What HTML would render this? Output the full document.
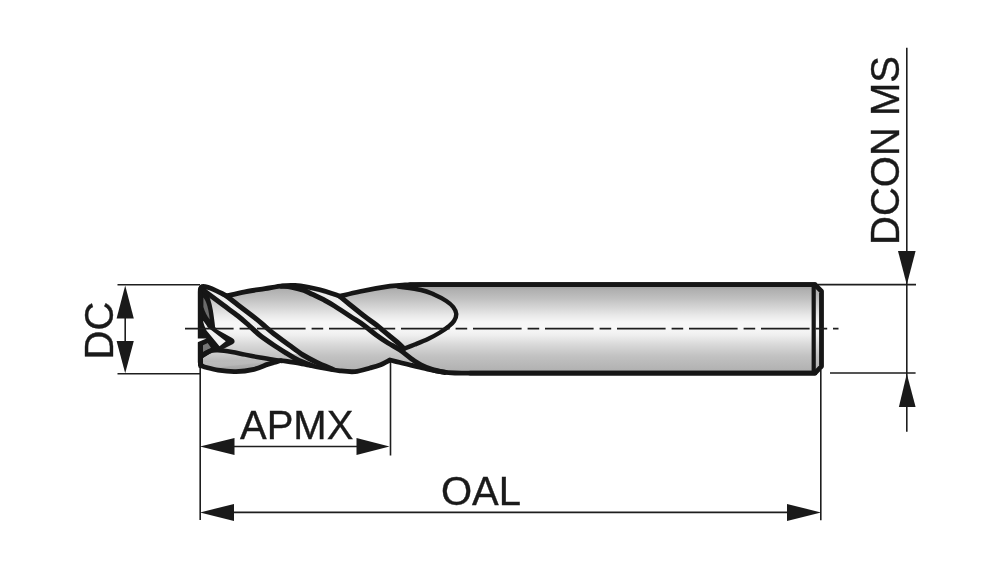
<!DOCTYPE html>
<html><head><meta charset="utf-8">
<style>
html,body{margin:0;padding:0;background:#fff;width:1000px;height:569px;overflow:hidden}
svg{display:block;will-change:transform}
text{font-family:"Liberation Sans",sans-serif;fill:#1a1a1a;stroke:#1a1a1a;stroke-width:0.35}
</style></head><body>
<svg width="1000" height="569" viewBox="0 0 1000 569">
<defs>
<linearGradient id="gb" x1="0" y1="287" x2="0" y2="371" gradientUnits="userSpaceOnUse">
<stop offset="0.012" stop-color="#a6a6a6"/>
<stop offset="0.036" stop-color="#b0b0b0"/>
<stop offset="0.137" stop-color="#c0c0c0"/>
<stop offset="0.238" stop-color="#d4d4d4"/>
<stop offset="0.333" stop-color="#e8e8e8"/>
<stop offset="0.417" stop-color="#f6f6f6"/>
<stop offset="0.488" stop-color="#f8f8f8"/>
<stop offset="0.571" stop-color="#efefef"/>
<stop offset="0.690" stop-color="#d8d8d8"/>
<stop offset="0.821" stop-color="#c2c2c2"/>
<stop offset="0.924" stop-color="#b8b8b8"/>
<stop offset="0.988" stop-color="#b2b2b2"/>
</linearGradient>
<linearGradient id="globe" x1="0" y1="350" x2="0" y2="370" gradientUnits="userSpaceOnUse">
<stop offset="0" stop-color="#d6d6d6"/>
<stop offset="1" stop-color="#a2a2a2"/>
</linearGradient>
</defs>
<!-- dimension lines -->
<g stroke="#1e1e1e" stroke-width="1.6" fill="none">
<path d="M117.5 284.8H200M117.5 373.7H200M125.2 300V360"/>
<path d="M200.2 368V520M820.8 370V520.3M390.5 358V455.5"/>
<path d="M215 446.5H375M215 512.4H806"/>
<path d="M906.8 47.7V431.7M816 284.6H916M830 373H915.6"/>
</g>
<g fill="#1a1a1a">
<path d="M125.2 285.6L116.6 318.5H133.8Z"/>
<path d="M125.2 373.3L116.6 340.9H133.8Z"/>
<path d="M200 446.5L234.5 438V455Z"/>
<path d="M389.5 446.5L356.5 438V455Z"/>
<path d="M200 512.4L234 504V521Z"/>
<path d="M821 512.4L787 504V521Z"/>
<path d="M906.8 284.8L898 251H915.6Z"/>
<path d="M906.8 373.7L898.9 407.1H915.6Z"/>
</g>
<text x="240" y="438.5" font-size="40">APMX</text>
<text x="441" y="505" font-size="40">OAL</text>
<text transform="translate(113 359.5) rotate(-90)" font-size="40">DC</text>
<text transform="translate(898.7 245) rotate(-90)" font-size="40">DCON MS</text>


<!-- tool body fill -->
<path d="M200.2 292 Q200.2 286.3 203.5 286.3 C204.6 286.6 207.9 287.3 210.0 288.0 C212.1 288.7 214.0 289.7 216.0 290.6 C218.0 291.5 220.2 292.6 222.0 293.5 C223.8 294.4 225.8 295.6 226.5 296.0 C229.6 295.3 238.6 293.0 245.0 291.8 C251.4 290.6 258.8 289.6 265.0 288.6 C271.2 287.6 277.5 286.3 282.5 285.8 C287.5 285.3 290.8 285.3 295.0 285.5 C299.2 285.7 303.3 286.3 307.5 287.0 C311.7 287.7 315.9 288.7 320.0 289.8 C324.1 290.9 328.7 292.4 332.0 293.5 C335.3 294.6 338.5 295.8 339.8 296.3 C343.2 295.5 351.6 293.2 360.0 291.5 C368.4 289.8 382.5 287.3 390.0 286.2 C397.5 285.1 400.0 285.2 405.0 285.0 C410.0 284.8 417.5 284.8 420.0 284.7 L815 284.7 L821.5 291.3 L821.5 366.3 L815 373.2 L480 373.2 C475.8 373.2 461.7 373.3 455.0 373.0 C448.3 372.7 445.0 372.2 440.0 371.5 C435.0 370.8 430.0 369.6 425.0 368.5 C420.0 367.4 414.2 366.0 410.0 365.0 C405.8 364.0 403.3 363.3 400.0 362.5 C396.7 361.7 391.7 360.4 390.0 360.0 C388.3 360.8 383.3 363.7 380.0 365.0 C376.7 366.3 374.2 366.9 370.0 368.0 C365.8 369.1 360.0 371.1 355.0 371.6 C350.0 372.1 345.8 371.5 340.0 370.8 C334.2 370.1 326.7 368.8 320.0 367.5 C313.3 366.2 306.5 364.5 300.0 363.3 C293.5 362.1 284.2 361.0 281.0 360.5 C279.8 360.8 276.2 361.9 274.0 362.5 C271.8 363.1 270.8 363.3 267.5 364.4 C264.2 365.5 259.2 368.1 254.0 369.3 C248.8 370.5 242.0 371.5 236.0 371.6 C230.0 371.8 223.2 371.0 218.0 370.2 C212.8 369.4 206.8 367.5 204.5 367.0 Q200.2 366 200.2 362 Z" fill="url(#gb)"/>
<path d="M200.5 357.0 C201.4 356.3 204.1 354.1 206.0 353.0 C207.9 351.9 210.0 351.1 212.0 350.6 C214.0 350.2 214.7 350.1 218.0 350.3 C221.3 350.5 227.5 351.3 232.0 352.0 C236.5 352.7 240.3 353.8 245.0 354.7 C249.7 355.6 255.5 356.7 260.0 357.5 C264.5 358.3 268.3 358.8 272.0 359.4 C275.7 360.0 280.3 360.7 282.0 361.0 C206.8 367.5 212.8 369.4 218.0 370.2 C223.2 371.0 230.0 371.8 236.0 371.6 C242.0 371.5 248.8 370.5 254.0 369.3 C259.2 368.1 264.2 365.5 267.5 364.4 C270.8 363.3 271.8 363.1 274.0 362.5 C276.2 361.9 279.8 360.8 281.0 360.5 L200.2 362 Z" fill="url(#globe)"/>
<path d="M204.0 288.0 C205.0 288.2 208.0 288.8 210.0 289.5 C212.0 290.2 214.0 291.1 216.0 292.0 C218.0 292.9 220.2 294.1 222.0 295.0 C223.8 295.9 225.8 297.1 226.5 297.5 C228.4 297.5 233.7 301.7 238.0 305.0 C242.3 308.3 248.2 312.7 252.5 316.0 C256.8 319.3 259.7 321.8 263.5 325.0 C267.3 328.2 271.2 331.7 275.5 335.0 C279.8 338.3 284.4 341.7 289.0 345.0 C293.6 348.3 300.7 353.3 303.0 355.0 L286.0 353.0 C283.9 351.7 277.9 348.0 273.5 345.0 C269.1 342.0 263.7 338.3 259.5 335.0 C255.3 331.7 252.1 328.2 248.5 325.0 C244.9 321.8 242.2 319.3 238.0 316.0 C233.8 312.7 227.4 308.2 223.2 305.0 C218.9 301.8 215.6 299.3 212.5 297.0 C209.4 294.7 205.8 292.0 204.5 291.0 Z" fill="#eeeeee"/>
<path d="M300.0 287.8 C301.2 288.1 304.2 288.7 307.5 289.5 C310.8 290.3 315.9 291.4 320.0 292.5 C324.1 293.6 328.7 295.2 332.0 296.0 C335.3 296.8 338.5 297.2 339.8 297.5 C341.5 297.7 345.9 301.4 350.0 304.7 C354.1 308.0 360.1 312.9 364.5 316.3 C368.9 319.7 372.5 321.9 376.5 325.0 C380.5 328.1 385.1 332.2 388.5 335.0 C391.9 337.8 394.4 339.8 397.0 342.0 C399.6 344.2 402.8 347.4 404.0 348.5  L388.0 343.0 C386.0 341.7 380.3 338.0 376.2 335.0 C372.1 332.0 367.8 328.1 363.5 325.0 C359.2 321.9 355.3 319.7 350.5 316.5 C345.7 313.3 338.8 308.7 334.5 306.0 C330.2 303.3 328.7 302.4 325.0 300.5 C321.3 298.6 315.8 296.0 312.3 294.3 C308.8 292.6 307.4 291.5 304.0 290.3 C300.6 289.1 295.7 287.9 292.0 287.2 C288.3 286.5 283.7 286.4 282.0 286.3 Z" fill="#eeeeee"/>
<!-- tip black mass -->
<path d="M198.2 290 Q198.2 284.3 203.5 284.5 L206 289 C209 295 211.5 302 212.8 310 C213.8 316 214.6 322 215.1 327 L217 329.5 L232.2 338 C235 339.5 235.5 342.5 233 344 L220.2 350.5 L212 352.5 L203 358 L203 366 L198.2 366 Z" fill="#161616"/>
<path d="M203.4 297.5 C205.5 300 207.3 305 208.3 310 C209 314 209.5 317 209.7 319.5 C207 316 204.8 312 203.4 307 Z" fill="#6c6c6c"/>
<path d="M202.9 320.8 C204.6 322.5 206.2 324.6 207.6 327.3 L225.8 341.2 L219.5 346.3 L206.3 330.2 C204.9 327 203.6 324 202.9 320.8 Z" fill="#f2f2f2"/>
<path d="M203 345.3 L208.3 342.8 L211.6 347.4 L203 352 Z" fill="#777"/>
<g fill="none" stroke="#161616" stroke-linecap="round" stroke-linejoin="round">
<path d="M200.2 292 Q200.2 286.3 203.5 286.3 C204.6 286.6 207.9 287.3 210.0 288.0 C212.1 288.7 214.0 289.7 216.0 290.6 C218.0 291.5 220.2 292.6 222.0 293.5 C223.8 294.4 225.8 295.6 226.5 296.0 C229.6 295.3 238.6 293.0 245.0 291.8 C251.4 290.6 258.8 289.6 265.0 288.6 C271.2 287.6 277.5 286.3 282.5 285.8 C287.5 285.3 290.8 285.3 295.0 285.5 C299.2 285.7 303.3 286.3 307.5 287.0 C311.7 287.7 315.9 288.7 320.0 289.8 C324.1 290.9 328.7 292.4 332.0 293.5 C335.3 294.6 338.5 295.8 339.8 296.3 C343.2 295.5 351.6 293.2 360.0 291.5 C368.4 289.8 382.5 287.3 390.0 286.2 C397.5 285.1 400.0 285.2 405.0 285.0 C410.0 284.8 417.5 284.8 420.0 284.7 L815 284.7 L821.5 291.3 L821.5 366.3 L815 373.2 L480 373.2 C475.8 373.2 461.7 373.3 455.0 373.0 C448.3 372.7 445.0 372.2 440.0 371.5 C435.0 370.8 430.0 369.6 425.0 368.5 C420.0 367.4 414.2 366.0 410.0 365.0 C405.8 364.0 403.3 363.3 400.0 362.5 C396.7 361.7 391.7 360.4 390.0 360.0 C388.3 360.8 383.3 363.7 380.0 365.0 C376.7 366.3 374.2 366.9 370.0 368.0 C365.8 369.1 360.0 371.1 355.0 371.6 C350.0 372.1 345.8 371.5 340.0 370.8 C334.2 370.1 326.7 368.8 320.0 367.5 C313.3 366.2 306.5 364.5 300.0 363.3 C293.5 362.1 284.2 361.0 281.0 360.5 C279.8 360.8 276.2 361.9 274.0 362.5 C271.8 363.1 270.8 363.3 267.5 364.4 C264.2 365.5 259.2 368.1 254.0 369.3 C248.8 370.5 242.0 371.5 236.0 371.6 C230.0 371.8 223.2 371.0 218.0 370.2 C212.8 369.4 206.8 367.5 204.5 367.0 Q200.2 366 200.2 362 Z" stroke-width="4.8"/>
<path d="M410 284.7 L815 284.7 M470 373.2 L815 373.2" stroke-width="4.7"/>
<path d="M813.7 286.5 V371.5" stroke-width="4.2"/>
<path d="M226.5 296.0 C228.4 297.5 233.7 301.7 238.0 305.0 C242.3 308.3 248.2 312.7 252.5 316.0 C256.8 319.3 259.7 321.8 263.5 325.0 C267.3 328.2 271.2 331.7 275.5 335.0 C279.8 338.3 284.4 341.7 289.0 345.0 C293.6 348.3 298.3 352.1 303.0 355.0 C307.7 357.9 312.0 360.1 317.0 362.5 C322.0 364.9 330.3 368.3 333.0 369.5" stroke-width="5"/>
<path d="M204.5 291.0 C205.8 292.0 209.4 294.7 212.5 297.0 C215.6 299.3 218.9 301.8 223.2 305.0 C227.4 308.2 233.8 312.7 238.0 316.0 C242.2 319.3 244.9 321.8 248.5 325.0 C252.1 328.2 255.3 331.7 259.5 335.0 C263.7 338.3 269.1 342.0 273.5 345.0 C277.9 348.0 281.8 350.4 286.0 353.0 C290.2 355.6 294.7 358.4 299.0 360.5 C303.3 362.6 309.8 364.7 312.0 365.5" stroke-width="5"/>
<path d="M339.8 296.3 C341.5 297.7 345.9 301.4 350.0 304.7 C354.1 308.0 360.1 312.9 364.5 316.3 C368.9 319.7 372.5 321.9 376.5 325.0 C380.5 328.1 385.1 332.2 388.5 335.0 C391.9 337.8 394.4 339.8 397.0 342.0 C399.6 344.2 402.8 347.4 404.0 348.5" stroke-width="5"/>
<path d="M282.0 286.3 C283.7 286.4 288.3 286.5 292.0 287.2 C295.7 287.9 300.6 289.1 304.0 290.3 C307.4 291.5 308.8 292.6 312.3 294.3 C315.8 296.0 321.3 298.6 325.0 300.5 C328.7 302.4 330.2 303.3 334.5 306.0 C338.8 308.7 345.7 313.3 350.5 316.5 C355.3 319.7 359.2 321.9 363.5 325.0 C367.8 328.1 372.1 332.0 376.2 335.0 C380.3 338.0 384.0 340.5 388.0 343.0 C392.0 345.5 396.2 347.4 400.0 350.0 C403.8 352.6 407.5 356.0 411.0 358.5 C414.5 361.0 417.5 363.2 421.0 365.0 C424.5 366.8 428.0 368.2 432.0 369.5 C436.0 370.8 442.8 372.0 445.0 372.5" stroke-width="5"/>
<path d="M398.0 286.5 C401.8 287.1 415.0 288.7 421.0 290.0 C427.0 291.3 429.8 292.7 434.0 294.5 C438.2 296.3 443.1 298.9 446.3 301.0 C449.5 303.1 451.5 304.8 453.2 307.0 C454.9 309.2 456.2 311.7 456.3 314.0 C456.4 316.3 455.3 318.9 454.0 321.0 C452.7 323.1 450.8 324.6 448.5 326.5 C446.2 328.4 443.4 330.4 440.0 332.5 C436.6 334.6 432.2 337.0 428.0 339.0 C423.8 341.0 419.1 342.8 414.8 344.5 C410.5 346.2 404.1 348.7 402.0 349.5" stroke-width="4.4"/>
<path d="M200.5 357.0 C201.4 356.3 204.1 354.1 206.0 353.0 C207.9 351.9 210.0 351.1 212.0 350.6 C214.0 350.2 214.7 350.1 218.0 350.3 C221.3 350.5 227.5 351.3 232.0 352.0 C236.5 352.7 240.3 353.8 245.0 354.7 C249.7 355.6 255.5 356.7 260.0 357.5 C264.5 358.3 268.3 358.8 272.0 359.4 C275.7 360.0 280.3 360.7 282.0 361.0" stroke-width="4.4"/>
<path d="M207.5 340.5 L213 348.5 M201 343.5 L208.5 341" stroke-width="2.4"/>
<path d="M200.4 341 V366" stroke-width="4.4"/>
</g>
<path d="M197 338.4 L206.5 338.4 L197 342.4 Z" fill="#ffffff"/>
<!-- centerline -->
<line x1="185" y1="328.7" x2="838.5" y2="328.7" stroke="#1e1e1e" stroke-width="1.8" stroke-dasharray="48.6 6 11.6 5.8"/>
</svg>
</body></html>
